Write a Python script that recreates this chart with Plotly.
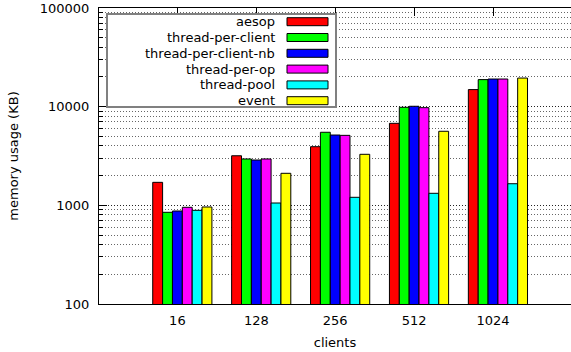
import plotly.graph_objects as go

# ---- data ----
clients = ["16", "128", "256", "512", "1024"]
series_names = ["aesop", "thread-per-client", "thread-per-client-nb",
                "thread-per-op", "thread-pool", "event"]
aesop = [1710, 3180, 3930, 6780, 14900]
thread_per_client = [850, 2950, 5500, 9850, 18800]
thread_per_client_nb = [876, 2880, 5160, 10090, 19060]
thread_per_op = [955, 2950, 5120, 9770, 19060]
thread_pool = [890, 1056, 1206, 1324, 1656]
event = [962, 2112, 3290, 5630, 19500]
series_values = [aesop, thread_per_client, thread_per_client_nb,
                 thread_per_op, thread_pool, event]
series_colors = ["#ff0000", "#00ff00", "#0000ff", "#ff00ff", "#00ffff", "#ffff00"]
y_tick_values = [100, 1000, 10000, 100000]
y_tick_labels = ["100", "1000", "10000", "100000"]
y_minor_values = [m * d for d in (100, 1000, 10000) for m in range(2, 10)]

# ---- geometry ----
W, H = 571, 352
ML, MR, MT, MB = 99, 0, 8, 48
PW, PH = W - ML - MR, H - MT - MB
FONT = "DejaVu Sans"


def px(x):  # page x -> paper
    return (x - ML) / PW


def py(y):  # page y -> paper
    return (H - MB - y) / PH


xs = list(range(len(clients)))
n_series = len(series_names)
bargap = 0.25
bar_w = (1 - bargap) / n_series

fig = go.Figure()
for name, vals, color in zip(series_names, series_values, series_colors):
    fig.add_trace(go.Bar(
        x=xs, y=vals, name=name, showlegend=False,
        marker=dict(color=color, line=dict(color="black", width=1)),
    ))

fig.update_layout(
    width=W, height=H,
    margin=dict(l=ML, r=MR, t=MT, b=MB, pad=0),
    barmode="group", bargap=bargap, bargroupgap=0,
    plot_bgcolor="white", paper_bgcolor="white",
    font=dict(family=FONT, size=13, color="black"),
)

fig.update_xaxes(
    range=[-1.056, 4.926],
    tickmode="array",
    tickvals=[i - bar_w / 2 for i in xs],
    ticktext=clients,
    ticks="inside", ticklen=8, tickcolor="black", tickwidth=1,
    showline=True, linecolor="black", linewidth=1, mirror="ticks",
    showgrid=False, zeroline=False, layer="below traces",
    title=dict(text="clients", standoff=11, font=dict(size=13)),
    ticklabelstandoff=4,
)

fig.update_yaxes(
    type="log", range=[2, 5],
    tickmode="array", tickvals=y_tick_values, ticktext=y_tick_labels,
    ticks="inside", ticklen=8, tickcolor="black", tickwidth=1,
    showline=True, linecolor="black", linewidth=1, mirror=False,
    showgrid=True, gridcolor="#222222", gridwidth=1, griddash="1px,2px",
    zeroline=False,
    minor=dict(tickmode="array", tickvals=y_minor_values,
               ticks="inside", ticklen=4, tickcolor="black",
               showgrid=True, gridcolor="#666666", griddash="1px,2px", gridwidth=1),
    title=dict(text="memory usage (KB)", standoff=18, font=dict(size=13)),
    ticklabelstandoff=6,
)

# ---- legend box (gnuplot style: text right, swatch on right) ----
box_l, box_t, box_r, box_b = 107, 14, 336, 107
fig.add_shape(type="rect", xref="paper", yref="paper",
              x0=px(box_l), x1=px(box_r), y0=py(box_b), y1=py(box_t),
              fillcolor="white", line=dict(color="#808080", width=2), layer="above")
row0, row_step = 21.7, 15.8
text_right = 277
sw_l, sw_r, sw_h = 287, 328, 8
for k, (name, color) in enumerate(zip(series_names, series_colors)):
    cy = row0 + k * row_step
    fig.add_annotation(xref="paper", yref="paper", x=px(text_right), y=py(cy),
                       text=name, showarrow=False, xanchor="right", yanchor="middle",
                       font=dict(family=FONT, size=13, color="black"))
    fig.add_shape(type="rect", xref="paper", yref="paper",
                  x0=px(sw_l), x1=px(sw_r), y0=py(cy + sw_h / 2), y1=py(cy - sw_h / 2),
                  fillcolor=color, line=dict(color="black", width=1), layer="above")

# remove the browser's default 8px body margin so the figure sits at the page origin
fig.write_html("out.html", config={"displayModeBar": False},
               post_script="document.body.style.margin='0px';")
